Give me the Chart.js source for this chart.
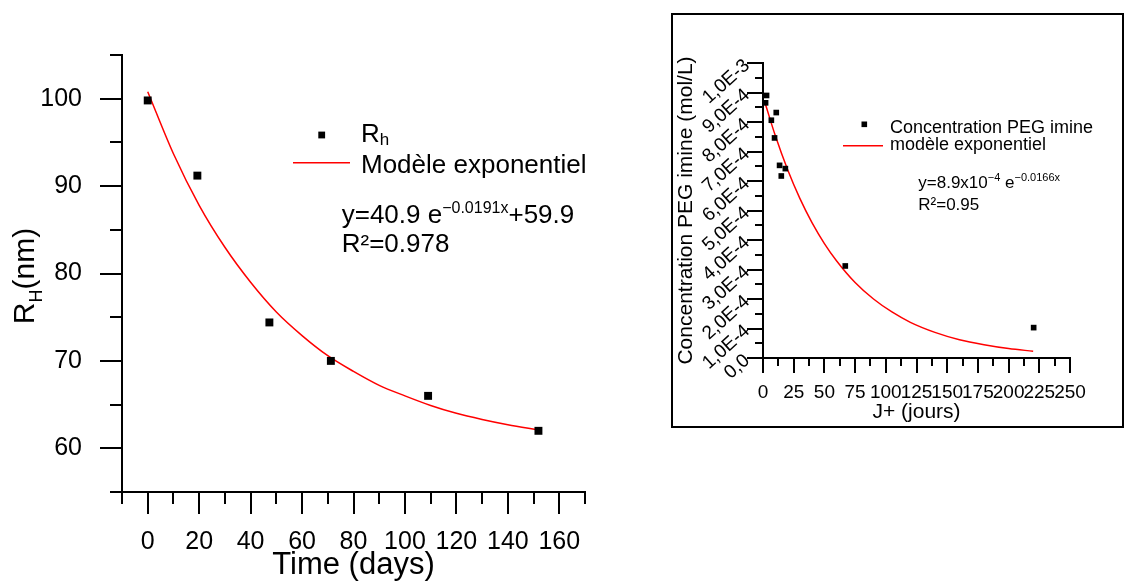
<!DOCTYPE html>
<html>
<head>
<meta charset="utf-8">
<script src="https://cdn.jsdelivr.net/npm/chart.js@4.4.1/dist/chart.umd.min.js"></script>
<style>
  html, body { margin: 0; padding: 0; background: #fff; }
  body { width: 1124px; height: 582px; position: relative; overflow: hidden; }
  #leftWrap { position: absolute; left: 0; top: 0; width: 660px; height: 582px; }
  #rightWrap { position: absolute; left: 671px; top: 13px; width: 453px; height: 415px;
               border: 2px solid #000; box-sizing: border-box; }
</style>
</head>
<body>
<div id="leftWrap"><canvas id="rhChart"></canvas></div>
<div id="rightWrap"><canvas id="pegChart"></canvas></div>
<script>
// --- left chart: hydrodynamic radius vs time ---
const rhDays = [0, 19.3, 47.3, 71.2, 109, 151.9];
const rhValues = [99.8, 91.2, 74.4, 70.0, 66.0, 62.0];
// fitted exponential curve
const rhFitDays = [0, 10, 20, 30, 40, 50, 60, 70, 80, 90, 100, 110, 120, 130, 140, 152];
const rhFitValues = [100.8, 93.7, 87.8, 83.0, 79.0, 75.6, 72.9, 70.6, 68.8, 67.2, 66.0, 64.9, 64.0, 63.3, 62.7, 62.1];

// --- right chart: PEG imine concentration vs days ---
const pegDays = [2.9, 2.1, 10.8, 6.8, 9.4, 13.5, 18.2, 14.9, 67, 220.4];
const pegConc = [8.90e-4, 8.65e-4, 8.32e-4, 8.06e-4, 7.46e-4, 6.53e-4, 6.42e-4, 6.17e-4, 3.12e-4, 1.03e-4];
const pegFitDays = [2, 10, 20, 30, 40, 50, 60, 75, 90, 105, 120, 140, 160, 180, 200, 220];
const pegFitConc = [8.6e-4, 7.54e-4, 6.39e-4, 5.41e-4, 4.58e-4, 3.88e-4, 3.29e-4, 2.56e-4, 2.00e-4,
                    1.56e-4, 1.21e-4, 0.87e-4, 0.62e-4, 0.45e-4, 0.32e-4, 0.23e-4];
const pegYTickLabels = ['0,0', '1,0E-4', '2,0E-4', '3,0E-4', '4,0E-4', '5,0E-4',
                        '6,0E-4', '7,0E-4', '8,0E-4', '9,0E-4', '1,0E-3'];

const FONT = '"Liberation Sans", Arial, sans-serif';
Chart.defaults.font.family = FONT;
Chart.defaults.color = '#000';

const toXY = (xs, ys) => xs.map((x, i) => ({ x: x, y: ys[i] }));

// draw text made of pieces of different size / vertical shift (sub & superscripts)
function richText(ctx, x, y, parts, align) {
    ctx.textAlign = 'left';
    ctx.textBaseline = 'alphabetic';
    let w = 0;
    parts.forEach(p => { ctx.font = p[1] + 'px ' + FONT; w += ctx.measureText(p[0]).width; });
    let cx = align === 'center' ? x - w / 2 : x;
    parts.forEach(p => {
        ctx.font = p[1] + 'px ' + FONT;
        ctx.fillText(p[0], cx, y + (p[2] || 0));
        cx += ctx.measureText(p[0]).width;
    });
}

// major / minor tick marks pointing outward (major = tick with a label)
function tickMarks(lens) {
    return {
        id: 'tickMarks',
        afterDraw(chart) {
            const ctx = chart.ctx;
            ctx.save();
            ctx.strokeStyle = '#000';
            ctx.lineWidth = 2;
            ['x', 'y'].forEach(id => {
                const s = chart.scales[id];
                s.ticks.forEach(t => {
                    const len = t.label === '' ? lens[id][1] : lens[id][0];
                    const p = Math.round(s.getPixelForValue(t.value));
                    ctx.beginPath();
                    if (id === 'x') {
                        ctx.moveTo(p, s.top);
                        ctx.lineTo(p, s.top + len);
                    } else {
                        ctx.moveTo(s.right, p);
                        ctx.lineTo(s.right - len, p);
                    }
                    ctx.stroke();
                });
            });
            ctx.restore();
        }
    };
}

const rhLegend = {
    id: 'rhLegend',
    afterDraw(chart) {
        const ctx = chart.ctx;
        ctx.save();
        ctx.fillStyle = '#000';
        ctx.fillRect(318.3, 131.6, 6.8, 6.8);
        richText(ctx, 361, 141.7, [['R', 26], ['h', 17, 3]]);
        ctx.strokeStyle = 'rgb(255,0,0)';
        ctx.lineWidth = 1.5;
        ctx.beginPath();
        ctx.moveTo(293, 162.7);
        ctx.lineTo(350, 162.7);
        ctx.stroke();
        richText(ctx, 361, 173.3, [['Modèle exponentiel', 26]]);
        richText(ctx, 341.7, 223.3, [['y=40.9 e', 26], ['\u22120.0191x', 16, -10], ['+59.9', 26]]);
        richText(ctx, 341.7, 251.7, [['R²=0.978', 26]]);
        // y axis title with subscript
        ctx.translate(33.5, 276);
        ctx.rotate(-Math.PI / 2);
        richText(ctx, 0, 0, [['R', 30], ['H', 18, 8], ['(nm)', 30]], 'center');
        ctx.restore();
    }
};

const pegLegend = {
    id: 'pegLegend',
    afterDraw(chart) {
        const ctx = chart.ctx;
        ctx.save();
        ctx.fillStyle = '#000';
        ctx.fillRect(188.5, 106.5, 5.6, 5.6);
        richText(ctx, 217, 117.7, [['Concentration PEG imine', 18]]);
        ctx.strokeStyle = 'rgb(255,0,0)';
        ctx.lineWidth = 1.5;
        ctx.beginPath();
        ctx.moveTo(170, 130.7);
        ctx.lineTo(210, 130.7);
        ctx.stroke();
        richText(ctx, 217, 135, [['modèle exponentiel', 18]]);
        richText(ctx, 245.3, 173.3, [['y=8.9x10', 17], ['\u22124', 11, -7], [' e', 17], ['\u22120.0166x', 11, -7]]);
        richText(ctx, 245.3, 195, [['R²=0.95', 17]]);
        ctx.restore();
    }
};

new Chart(document.getElementById('rhChart'), {
    type: 'scatter',
    data: {
        datasets: [{
            label: 'Rh',
            data: toXY(rhDays, rhValues),
            pointStyle: 'rect',
            pointRadius: 5.6,
            backgroundColor: '#000',
            borderColor: '#000',
            borderWidth: 0
        }, {
            label: 'Modèle exponentiel',
            data: toXY(rhFitDays, rhFitValues),
            showLine: true,
            cubicInterpolationMode: 'monotone',
            pointRadius: 0,
            borderColor: 'rgb(255,0,0)',
            borderWidth: 1.5
        }]
    },
    options: {
        responsive: true,
        maintainAspectRatio: false,
        animation: false,
        layout: { padding: { left: 0, top: 55, right: 75, bottom: 0 } },
        plugins: { legend: { display: false }, tooltip: { enabled: false } },
        scales: {
            x: {
                type: 'linear', min: -10, max: 170,
                grid: { display: false, drawTicks: false },
                border: { display: true, color: '#000', width: 2 },
                ticks: {
                    stepSize: 10, autoSkip: false, maxRotation: 0, minRotation: 0, padding: 35,
                    font: { size: 25 },
                    callback: v => (Math.round(v) % 20 === 0 ? String(Math.round(v)) : '')
                },
                title: { display: true, text: 'Time (days)', font: { size: 31, lineHeight: 1 },
                         padding: { top: 0, bottom: 1 } },
                afterFit: s => { s.height = 90; }
            },
            y: {
                type: 'linear', min: 55, max: 105,
                grid: { display: false, drawTicks: false },
                border: { display: true, color: '#000', width: 2 },
                ticks: {
                    stepSize: 5, autoSkip: false, padding: 40,
                    font: { size: 25 },
                    callback: v => (Math.round(v) % 10 === 0 ? String(Math.round(v)) : '')
                },
                afterFit: s => { s.width = 122; }
            }
        }
    },
    plugins: [tickMarks({ x: [22, 12], y: [22, 12] }), rhLegend]
});

new Chart(document.getElementById('pegChart'), {
    type: 'scatter',
    data: {
        datasets: [{
            label: 'Concentration PEG imine',
            data: toXY(pegDays, pegConc),
            pointStyle: 'rect',
            pointRadius: 4,
            backgroundColor: '#000',
            borderColor: '#000',
            borderWidth: 0
        }, {
            label: 'modèle exponentiel',
            data: toXY(pegFitDays, pegFitConc),
            showLine: true,
            cubicInterpolationMode: 'monotone',
            pointRadius: 0,
            borderColor: 'rgb(255,0,0)',
            borderWidth: 1.5
        }]
    },
    options: {
        responsive: true,
        maintainAspectRatio: false,
        animation: false,
        layout: { padding: { left: 0, top: 48, right: 52, bottom: 0 } },
        plugins: { legend: { display: false }, tooltip: { enabled: false } },
        scales: {
            x: {
                type: 'linear', min: 0, max: 250,
                grid: { display: false, drawTicks: false },
                border: { display: true, color: '#000', width: 2 },
                ticks: {
                    stepSize: 12.5, autoSkip: false, maxRotation: 0, minRotation: 0, padding: 23,
                    font: { size: 19 },
                    callback: v => (Math.round(v * 10) % 250 === 0 ? String(Math.round(v)) : '')
                },
                title: { display: true, text: 'J+ (jours)', font: { size: 21, lineHeight: 1 },
                         padding: { top: 0, bottom: 3 } },
                afterFit: s => { s.height = 68; }
            },
            y: {
                type: 'linear', min: 0, max: 1e-3,
                grid: { display: false, drawTicks: false },
                border: { display: true, color: '#000', width: 2 },
                ticks: {
                    stepSize: 5e-5, autoSkip: false, maxTicksLimit: 100, padding: 16,
                    minRotation: 42, maxRotation: 42,
                    font: { size: 19 },
                    callback: v => {
                        const n = Math.round(v * 1e5);
                        return n % 10 === 0 ? pegYTickLabels[n / 10] : '';
                    }
                },
                title: { display: true, text: 'Concentration PEG imine (mol/L)',
                         font: { size: 21, lineHeight: 1 }, padding: { top: 2.5, bottom: 0 } },
                afterFit: s => { s.width = 90; }
            }
        }
    },
    plugins: [tickMarks({ x: [15, 8], y: [16, 8] }), pegLegend]
});
</script>
</body>
</html>
